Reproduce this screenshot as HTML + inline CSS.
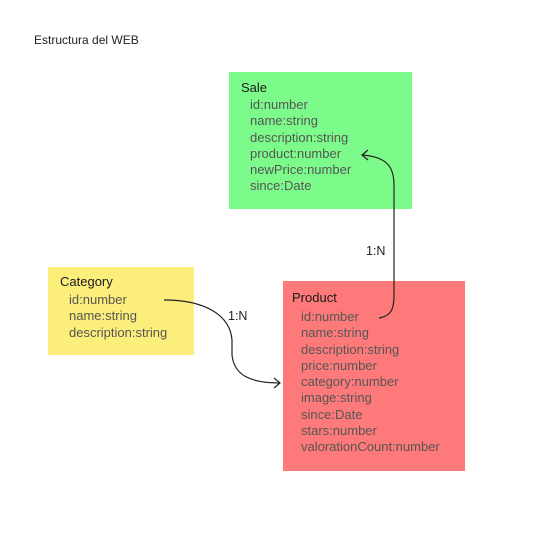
<!DOCTYPE html>
<html><head><style>
body{margin:0;width:544px;height:544px;background:#fff;position:relative;font-family:"Liberation Sans",sans-serif;overflow:hidden}
.t{position:absolute;font-size:12px;color:#222}
.box{position:absolute}
.box .h{position:absolute;font-size:13px;color:#1a1a1a;white-space:nowrap}
.box .a{position:absolute;font-size:13px;color:#555;line-height:16.3px;white-space:nowrap}
</style></head><body>
<div class="t" style="left:34px;top:33px">Estructura del WEB</div>
<div class="box" style="left:229px;top:72px;width:183px;height:137px;background:#7dfb8a">
 <div class="h" style="left:12px;top:8px">Sale</div>
 <div class="a" style="left:21px;top:25px">id:number<br>name:string<br>description:string<br>product:number<br>newPrice:number<br>since:Date</div>
</div>
<div class="box" style="left:48px;top:267px;width:146px;height:88px;background:#fcee7a">
 <div class="h" style="left:12px;top:7px">Category</div>
 <div class="a" style="left:21px;top:25px">id:number<br>name:string<br>description:string</div>
</div>
<div class="box" style="left:283px;top:281px;width:182px;height:190px;background:#fe7a7a">
 <div class="h" style="left:9px;top:9px">Product</div>
 <div class="a" style="left:18px;top:28px">id:number<br>name:string<br>description:string<br>price:number<br>category:number<br>image:string<br>since:Date<br>stars:number<br>valorationCount:number</div>
</div>
<svg width="544" height="544" style="position:absolute;left:0;top:0">
<g fill="none" stroke="#222" stroke-width="1.2">
<path d="M379 318 C392 316 394 308 394 295 L394 185 C394 165 385 157 363 155"/>
<path d="M368 150 L362 155 L368 160"/>
<path d="M164 300 C205 300 230 315 232 340 L232 355 C234 375 250 383 280 383"/>
<path d="M274 378 L280 383 L274 388"/>
</g>
<text x="366" y="255" font-family="Liberation Sans" font-size="12.5" fill="#222">1:N</text>
<text x="228" y="320" font-family="Liberation Sans" font-size="12.5" fill="#222">1:N</text>
</svg>
</body></html>
